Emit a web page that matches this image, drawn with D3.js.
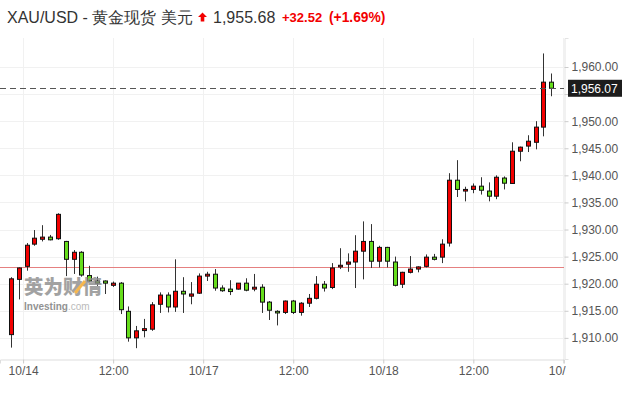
<!DOCTYPE html>
<html>
<head>
<meta charset="utf-8">
<script src="https://cdn.jsdelivr.net/npm/d3@7"></script>
<style>
  body { margin: 0; background: #fff; }
  svg { display: block; font-family: "Liberation Sans", Arial, sans-serif; }
</style>
</head>
<body>
<svg id="chart" width="627" height="393"></svg>
<script>
// hourly candles, XAU/USD
const opens  = [1910.6,1920.8,1923.2,1927.3,1928.2,1928.6,1928.3,1927.8,1924.5,1925.8,
                1921.5,1920.5,1920.5,1919.7,1920.1,1914.9,1910.0,1911.35,1911.6,1916.2,
                1917.9,1915.7,1918.6,1917.7,1918.25,1921.4,1921.75,1919.2,1919.0,1919.0,
                1920.1,1919.0,1919.35,1916.6,1914.9,1914.7,1916.8,1914.7,1916.4,1917.3,
                1919.9,1919.3,1923.1,1923.6,1924.0,1926.0,1927.8,1924.15,1926.7,1924.0,
                1919.9,1922.1,1922.7,1923.2,1924.9,1924.9,1927.5,1939.1,1937.1,1937.4,
                1938.0,1937.1,1936.15,1939.5,1938.5,1944.45,1945.4,1946.1,1948.9,1957.2];
const highs  = [1921.2,1923.0,1927.5,1929.9,1930.8,1929.0,1933.0,1927.9,1926.2,1926.0,
                1923.3,1921.3,1920.6,1920.4,1920.3,1915.8,1912.2,1913.5,1916.6,1918.4,
                1918.4,1924.5,1921.2,1920.3,1921.9,1922.2,1922.7,1919.7,1920.65,1920.1,
                1921.0,1921.8,1919.9,1916.8,1915.1,1916.9,1917.0,1916.6,1918.1,1921.4,
                1920.5,1923.8,1926.55,1925.6,1928.95,1931.5,1931.0,1927.0,1926.8,1925.0,
                1922.2,1925.1,1923.2,1925.4,1925.5,1928.2,1940.4,1942.8,1937.9,1938.5,
                1939.65,1938.7,1940.0,1939.8,1946.1,1945.3,1947.4,1950.0,1962.5,1958.8];
const lows   = [1908.2,1917.1,1922.4,1927.0,1927.8,1928.0,1928.1,1921.4,1921.8,1921.3,
                1920.3,1919.6,1918.1,1919.4,1914.4,1909.3,1908.1,1910.1,1911.3,1914.6,
                1914.7,1914.8,1914.6,1916.2,1918.1,1920.5,1918.7,1918.5,1917.9,1918.9,
                1918.6,1918.6,1914.6,1913.3,1912.3,1914.4,1914.4,1914.1,1915.7,1917.1,
                1918.55,1919.0,1922.7,1922.2,1919.2,1920.8,1922.9,1923.0,1923.0,1919.5,
                1919.2,1921.9,1922.1,1923.0,1924.3,1923.8,1926.85,1936.0,1935.2,1936.7,
                1936.45,1935.2,1935.6,1937.4,1938.4,1942.6,1944.3,1944.8,1947.2,1954.6];
const closes = [1920.9,1922.9,1927.1,1928.4,1928.6,1928.1,1932.8,1924.5,1925.8,1921.6,
                1920.5,1920.1,1920.1,1920.1,1915.2,1910.0,1911.3,1911.7,1916.1,1917.9,
                1915.7,1918.6,1918.1,1918.1,1921.4,1921.75,1919.2,1918.7,1918.55,1920.1,
                1918.8,1919.35,1916.6,1915.1,1914.6,1916.8,1914.7,1916.4,1917.3,1919.9,
                1919.2,1922.9,1923.4,1924.0,1926.0,1927.8,1924.15,1926.7,1924.15,1919.7,
                1922.1,1922.7,1923.1,1924.9,1924.5,1927.3,1939.1,1937.4,1937.4,1938.0,
                1937.25,1936.15,1939.65,1938.55,1944.45,1945.2,1946.3,1948.9,1957.2,1956.07];

// x axis: candle slot positions of the date ticks
const tickSlots  = [1.55, 13.05, 24.55, 36.05, 47.55, 59.05, 70.55];
const tickLabels = ["10/14", "12:00", "10/17", "12:00", "10/18", "12:00", "10/19"];
const yTicks = [1910, 1915, 1920, 1925, 1930, 1935, 1940, 1945, 1950, 1955, 1960];

const lastPrice = 1956.07;   // last candle close (axis label)
const quotePrice = 1955.68;  // header quote
const prevClose = 1923.16;
const change = 32.52;
const changePct = 1.69;
const symbol = "XAU/USD - 黄金现货 美元";

(() => {
const candles = opens.map((o, i) => ({i, o, h: highs[i], l: lows[i], c: closes[i]}));

const svg = d3.select("#chart");
const pLeft = 0, pRight = 564, pTop = 38, pBottom = 359;

const x = d3.scaleLinear().domain([-1.4, 70.63]).range([pLeft, pRight]);
const y = d3.scaleLinear().domain([1906.1, 1965.35]).range([pBottom, pTop]);

const up = "#f20000", down = "#66dd1c";
const crisp = v => Math.round(v) + 0.5;
const fmt = d3.format(",.2f");

// grid
svg.append("g").selectAll("line").data(yTicks).join("line")
  .attr("x1", pLeft).attr("x2", pRight)
  .attr("y1", d => crisp(y(d))).attr("y2", d => crisp(y(d)))
  .attr("stroke", "#f1f1f1");
svg.append("g").selectAll("line").data(tickSlots).join("line")
  .attr("x1", d => crisp(x(d))).attr("x2", d => crisp(x(d)))
  .attr("y1", pTop).attr("y2", pBottom)
  .attr("stroke", "#f1f1f1");

// previous close
svg.append("line")
  .attr("x1", pLeft).attr("x2", pRight)
  .attr("y1", crisp(y(prevClose))).attr("y2", crisp(y(prevClose)))
  .attr("stroke", "#e58080");

// candles
const cg = svg.append("g");
cg.selectAll("line").data(candles).join("line")
  .attr("x1", d => crisp(x(d.i))).attr("x2", d => crisp(x(d.i)))
  .attr("y1", d => y(d.h)).attr("y2", d => y(d.l))
  .attr("stroke", "#333");
cg.selectAll("rect").data(candles).join("rect")
  .attr("x", d => Math.round(x(d.i)) - 1.5)
  .attr("width", 4)
  .attr("y", d => y(Math.max(d.o, d.c)))
  .attr("height", d => Math.max(1.5, Math.abs(y(d.o) - y(d.c))))
  .attr("fill", d => d.c >= d.o ? up : down)
  .attr("stroke", "#111").attr("stroke-width", 1);

// last price dashed line
svg.append("line")
  .attr("x1", pLeft).attr("x2", pRight)
  .attr("y1", crisp(y(lastPrice))).attr("y2", crisp(y(lastPrice)))
  .attr("stroke", "#555").attr("stroke-dasharray", "6,4");

// watermark
const wm = svg.append("g").attr("opacity", 0.8);
wm.append("text").attr("x", 24).attr("y", 294)
  .attr("font-family", "'Noto Sans CJK SC', sans-serif").attr("font-weight", 900)
  .attr("font-size", 19.5).attr("fill", "#8c8c8c").text("英为财情");
wm.append("line").attr("x1", 75).attr("y1", 293).attr("x2", 85).attr("y2", 281)
  .attr("stroke", "#f5a623").attr("stroke-width", 3);
const inv = wm.append("text").attr("x", 24).attr("y", 310).attr("font-size", 10);
inv.append("tspan").attr("font-weight", "bold").attr("fill", "#777").text("Investing");
inv.append("tspan").attr("fill", "#aaa").text(".com");

// right axis (label under the last price box is hidden, as in the original)
const yAxis = svg.append("g").attr("transform", `translate(${pRight + 0.5},0)`)
  .call(d3.axisRight(y).tickValues(yTicks)
    .tickFormat(d => Math.abs(y(d) - y(lastPrice)) < 12 ? "" : fmt(d))
    .tickSize(4).tickPadding(3));
yAxis.select(".domain").attr("stroke", "#e3e3e3");
yAxis.selectAll(".tick line").attr("stroke", "#ccc");
yAxis.selectAll(".tick text").attr("fill", "#555").attr("font-size", 12)
  .attr("font-family", "'Liberation Sans', Arial, sans-serif");

// bottom axis, last label clipped at the price axis
svg.append("defs").append("clipPath").attr("id", "xclip")
  .append("rect").attr("x", 0).attr("y", -2).attr("width", pRight + 2).attr("height", 40);
const xAxis = svg.append("g").attr("transform", `translate(0,${pBottom + 0.5})`)
  .attr("clip-path", "url(#xclip)")
  .call(d3.axisBottom(x).tickValues(tickSlots).tickFormat((d, i) => tickLabels[i]).tickSize(4).tickPadding(3));
xAxis.select(".domain").attr("stroke", "#ddd");
xAxis.selectAll(".tick line").attr("stroke", "#ccc");
xAxis.selectAll(".tick text").attr("fill", "#555").attr("font-size", 12)
  .attr("font-family", "'Liberation Sans', Arial, sans-serif");

// last price label
const ly = y(lastPrice);
svg.append("rect").attr("x", pRight + 4).attr("y", ly - 8.5).attr("width", 54).attr("height", 17)
  .attr("fill", "#1c1c1c");
svg.append("text").attr("x", pRight + 7).attr("y", ly + 4.5)
  .attr("fill", "#fff").attr("font-size", 12).text(fmt(lastPrice));

// header
svg.append("text").attr("x", 7).attr("y", 23).attr("font-size", 16).attr("fill", "#333")
  .text(symbol);
svg.append("path")
  .attr("d", "M202.5,12.5 L207,17 L204.3,17 L204.3,21.5 L200.7,21.5 L200.7,17 L198,17 Z")
  .attr("fill", "#f20000");
svg.append("text").attr("x", 213).attr("y", 22.5).attr("font-size", 16)
  .attr("fill", "#333").text(fmt(quotePrice));
svg.append("text").attr("x", 282).attr("y", 21.5).attr("font-size", 13).attr("font-weight", "bold")
  .attr("fill", "#f20000").text(`+${change.toFixed(2)}`);
svg.append("text").attr("x", 329).attr("y", 21.5).attr("font-size", 13.8).attr("font-weight", "bold")
  .attr("fill", "#f20000").text(`(+${changePct.toFixed(2)}%)`);
})();
</script>
</body>
</html>
